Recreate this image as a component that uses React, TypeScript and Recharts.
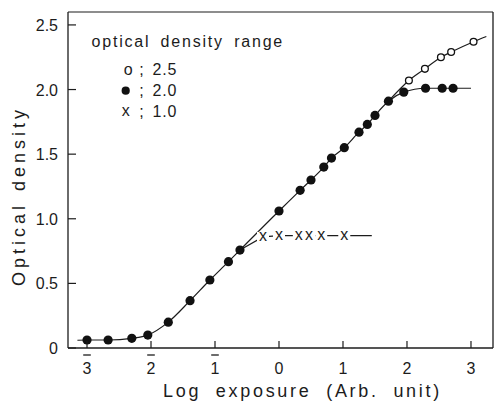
import React from 'react';
import { ComposedChart, Line, Scatter, XAxis, YAxis } from 'recharts';

// Optical density range 2.0 (filled dots)
const filledX = [-3.0, -2.67, -2.3, -2.05, -1.73, -1.39, -1.08, -0.79, -0.61, 0.0, 0.33, 0.5, 0.7, 0.82, 1.02, 1.25, 1.38, 1.5, 1.71, 1.95, 2.29, 2.55, 2.72];
const filledY = [0.062, 0.062, 0.075, 0.1, 0.2, 0.366, 0.526, 0.668, 0.758, 1.06, 1.22, 1.3, 1.4, 1.47, 1.55, 1.67, 1.73, 1.8, 1.91, 1.98, 2.01, 2.01, 2.01];
// Optical density range 2.5 (open circles)
const openX = [2.03, 2.28, 2.53, 2.69, 3.04];
const openY = [2.07, 2.16, 2.25, 2.29, 2.37];
// Optical density range 1.0 (crosses)
const crossX = [-0.25, 0.0, 0.31, 0.47, 0.66, 1.02];
const crossY = [0.86, 0.87, 0.87, 0.87, 0.87, 0.87];

// curve ends (line only, no markers)
const mainCurveStartX = [-3.15];
const mainCurveStartY = [0.06];
const mainCurveEndX = [3.0];
const mainCurveEndY = [2.01];
const openCurveStartX = [1.71];
const openCurveStartY = [1.91];
const openCurveEndX = [3.24];
const openCurveEndY = [2.41];
const crossCurveStartX = [-0.61];
const crossCurveStartY = [0.758];
const crossCurveEndX = [1.45];
const crossCurveEndY = [0.87];

const xTicks = [-3, -2, -1, 0, 1, 2, 3];
const yTicks = [0, 0.5, 1.0, 1.5, 2.0, 2.5];
const yTickLabels = ['0', '0.5', '1.0', '1.5', '2.0', '2.5'];

const legendTitle = 'optical density range';
const legendValues = ['2.5', '2.0', '1.0'];
const xTitle = 'Log exposure (Arb. unit)';
const yTitle = 'Optical density';

const toPts = (xs: number[], ys: number[]) => xs.map((x, i) => ({ x, y: ys[i] }));

const filled = toPts(filledX, filledY);
const open = toPts(openX, openY);
const cross = toPts(crossX, crossY);
const mainCurve = [...toPts(mainCurveStartX, mainCurveStartY), ...filled, ...toPts(mainCurveEndX, mainCurveEndY)];
const openCurve = [...toPts(openCurveStartX, openCurveStartY), ...open, ...toPts(openCurveEndX, openCurveEndY)];
const crossCurve = [...toPts(crossCurveStartX, crossCurveStartY), ...cross, ...toPts(crossCurveEndX, crossCurveEndY)];

const INK = '#1c1c1c';
const FONT = '"Liberation Sans", Arial, sans-serif';

const XTick = (props: any) => {
  const { x, y, payload } = props;
  const v = payload.value as number;
  const label = String(Math.abs(v));
  return (
    <g>
      <line x1={x} y1={y} x2={x} y2={y - 7} stroke={INK} strokeWidth={1.2} />
      {v < 0 && <line x1={x - 3.8} y1={y + 7} x2={x + 3.8} y2={y + 7} stroke={INK} strokeWidth={1.3} />}
      <text x={x} y={y + 25.5} textAnchor="middle" fontFamily={FONT} fontSize={16} fill={INK}>
        {label}
      </text>
    </g>
  );
};

const YTick = (props: any) => {
  const { x, y, payload, index } = props;
  return (
    <g>
      <line x1={x} y1={y} x2={x + 8} y2={y} stroke={INK} strokeWidth={1.2} />
      <text x={x - 10} y={y + 6} textAnchor="end" fontFamily={FONT} fontSize={16} fill={INK}>
        {yTickLabels[index] ?? String(payload.value)}
      </text>
    </g>
  );
};

const FilledDot = (p: any) => <circle cx={p.cx} cy={p.cy} r={4.6} fill="#111" />;
const OpenDot = (p: any) => <circle cx={p.cx} cy={p.cy} r={3.4} fill="#fff" stroke="#111" strokeWidth={1.3} />;
const CrossDot = (p: any) => (
  <g>
    <rect x={p.cx - 6} y={p.cy - 5} width={12} height={10} fill="#fff" />
    <text x={p.cx} y={p.cy + 4.2} textAnchor="middle" fontFamily={FONT} fontSize={16} fill={INK}>x</text>
  </g>
);

export default function App() {
  return (
    <div style={{ position: 'absolute', left: 0, top: 0, width: 495, height: 401, background: '#fff' }}>
      <ComposedChart width={495} height={401} margin={{ top: 11, right: 1, bottom: 0, left: 0 }}>
        <XAxis
          xAxisId={0}
          type="number"
          dataKey="x"
          domain={[-3.297, 3.344]}
          ticks={xTicks}
          allowDataOverflow
          height={53}
          tickSize={0}
          tickMargin={0}
          tick={XTick}
          stroke={INK}
          strokeWidth={1.3}
          interval={0}
        />
        <XAxis xAxisId="top" orientation="top" type="number" domain={[0, 1]} height={1} tick={false} tickLine={false} stroke={INK} strokeWidth={1.1} />
        <YAxis
          yAxisId={0}
          type="number"
          dataKey="y"
          domain={[0, 2.6]}
          ticks={yTicks}
          allowDataOverflow
          width={68}
          tickSize={0}
          tickMargin={0}
          tick={YTick}
          stroke={INK}
          strokeWidth={1.3}
          interval={0}
        />
        <YAxis yAxisId="right" orientation="right" type="number" domain={[0, 1]} width={1} tick={false} tickLine={false} stroke={INK} strokeWidth={1.3} />
        <Line data={mainCurve} dataKey="y" type="monotone" dot={false} activeDot={false} stroke={INK} strokeWidth={1.2} isAnimationActive={false} />
        <Line data={openCurve} dataKey="y" type="monotone" dot={false} activeDot={false} stroke={INK} strokeWidth={1.2} isAnimationActive={false} />
        <Line data={crossCurve} dataKey="y" type="linear" dot={false} activeDot={false} stroke={INK} strokeWidth={1.2} isAnimationActive={false} />
        <Scatter data={filled} dataKey="y" shape={FilledDot} isAnimationActive={false} />
        <Scatter data={open} dataKey="y" shape={OpenDot} isAnimationActive={false} />
        <Scatter data={cross} dataKey="y" shape={CrossDot} isAnimationActive={false} />
      </ComposedChart>
      <svg width={495} height={401} style={{ position: 'absolute', left: 0, top: 0, pointerEvents: 'none' }}>
        <g fontFamily={FONT} fill={INK}>
          <text x={91.5} y={47} fontSize={16} letterSpacing={1.8} wordSpacing={4}>{legendTitle}</text>
          <text x={128.3} y={74.5} fontSize={16} textAnchor="middle">o</text>
          <circle cx={125.7} cy={90.7} r={4.1} fill="#111" />
          <text x={125.7} y={116} fontSize={16} textAnchor="middle">x</text>
          {[75, 95.7, 117].map((b, i) => (
            <g key={i}>
              <text x={141.5} y={b} fontSize={16} textAnchor="middle">;</text>
              <text x={152.5} y={b} fontSize={16} letterSpacing={0.8}>{legendValues[i]}</text>
            </g>
          ))}
          <text x={163} y={396.5} fontSize={18} letterSpacing={2.7} wordSpacing={7}>{xTitle}</text>
          <text
            x={0}
            y={0}
            fontSize={18}
            letterSpacing={4}
            wordSpacing={2}
            textAnchor="middle"
            transform="translate(25,196) rotate(-90)"
          >
            {yTitle}
          </text>
        </g>
      </svg>
    </div>
  );
}
